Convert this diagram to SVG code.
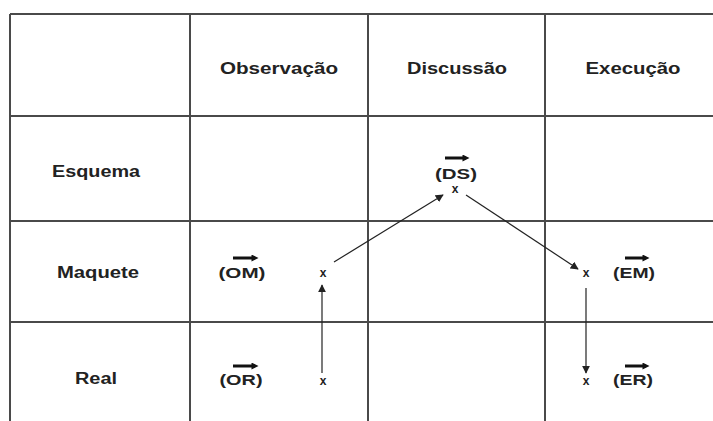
<svg xmlns="http://www.w3.org/2000/svg" width="713" height="421" viewBox="0 0 713 421">
<defs>
<style>
.grid{stroke:#4a4a4a;stroke-width:2;fill:none}
.t{font-family:"Liberation Sans",Arial,sans-serif;font-weight:bold;font-size:16px;fill:#222}
.l{font-family:"Liberation Sans",Arial,sans-serif;font-weight:bold;font-size:15px;fill:#222}
.x{font-family:"Liberation Sans",Arial,sans-serif;font-weight:bold;font-size:12px;fill:#222}
.conn{stroke:#222;stroke-width:1.2;fill:none;marker-end:url(#ah)}
.vec{stroke:#111;stroke-width:3;fill:none;marker-end:url(#vh)}
</style>
<marker id="ah" viewBox="0 0 10 10" refX="9" refY="5" markerWidth="8" markerHeight="8" markerUnits="userSpaceOnUse" orient="auto">
<path d="M0,0 L10,5 L0,10 z" fill="#222"/>
</marker>
<marker id="vh" viewBox="0 0 10 10" refX="5" refY="5" markerWidth="8" markerHeight="7" markerUnits="userSpaceOnUse" orient="auto">
<path d="M0,0 L10,5 L0,10 z" fill="#111"/>
</marker>
</defs>
<rect width="713" height="421" fill="#fff"/>
<g id="grid">
<path class="grid" d="M10,14 H713 M10,116 H713 M10,221 H713 M10,322 H713 M10,14 V421 M190,14 V421 M368,14 V421 M545,14 V421"/>
</g>
<g id="headers">
<text class="t" x="279" y="74" text-anchor="middle" textLength="118" lengthAdjust="spacingAndGlyphs">Observação</text>
<text class="t" x="457" y="74" text-anchor="middle" textLength="100" lengthAdjust="spacingAndGlyphs">Discussão</text>
<text class="t" x="633" y="74" text-anchor="middle" textLength="95" lengthAdjust="spacingAndGlyphs">Execução</text>
<text class="t" x="96" y="177" text-anchor="middle" textLength="88" lengthAdjust="spacingAndGlyphs">Esquema</text>
<text class="t" x="98" y="278" text-anchor="middle" textLength="82" lengthAdjust="spacingAndGlyphs">Maquete</text>
<text class="t" x="96" y="384" text-anchor="middle" textLength="42" lengthAdjust="spacingAndGlyphs">Real</text>
</g>
<g id="node-DS">
<path class="vec" d="M445,158 H466"/>
<text class="l" x="456" y="179" text-anchor="middle" textLength="42" lengthAdjust="spacingAndGlyphs">(DS)</text>
<text class="x" x="455" y="193" text-anchor="middle">x</text>
</g>
<g id="node-OM">
<path class="vec" d="M233,258 H255"/>
<text class="l" x="242" y="278" text-anchor="middle" textLength="47" lengthAdjust="spacingAndGlyphs">(OM)</text>
<text class="x" x="323" y="277" text-anchor="middle">x</text>
</g>
<g id="node-OR">
<path class="vec" d="M233,366 H255"/>
<text class="l" x="241" y="385" text-anchor="middle" textLength="43" lengthAdjust="spacingAndGlyphs">(OR)</text>
<text class="x" x="323" y="385" text-anchor="middle">x</text>
</g>
<g id="node-EM">
<path class="vec" d="M625,258 H646"/>
<text class="l" x="634" y="278" text-anchor="middle" textLength="42" lengthAdjust="spacingAndGlyphs">(EM)</text>
<text class="x" x="586" y="277" text-anchor="middle">x</text>
</g>
<g id="node-ER">
<path class="vec" d="M625,366 H646"/>
<text class="l" x="633" y="385" text-anchor="middle" textLength="40" lengthAdjust="spacingAndGlyphs">(ER)</text>
<text class="x" x="586" y="385" text-anchor="middle">x</text>
</g>
<g id="connectors">
<path class="conn" d="M322,373 V285"/>
<path class="conn" d="M334,262 L443,195"/>
<path class="conn" d="M466,195 L578,269"/>
<path class="conn" d="M586,288 V373"/>
</g>
</svg>
